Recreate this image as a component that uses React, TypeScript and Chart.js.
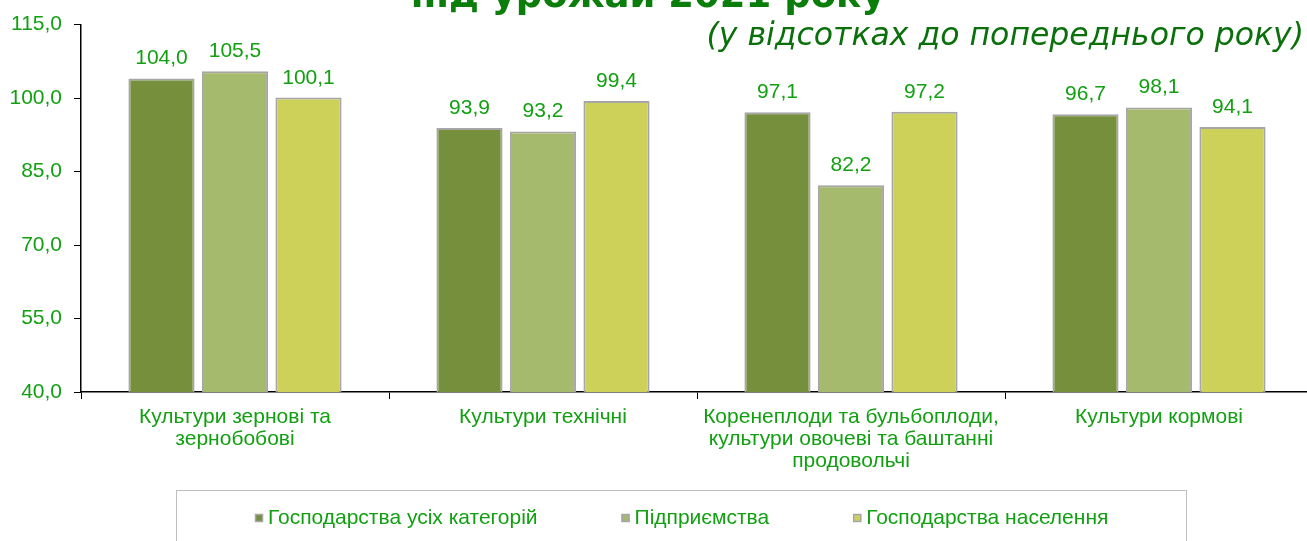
import React, { useEffect, useRef } from 'react';
import { Chart, registerables } from 'chart.js';

Chart.register(...registerables);

const categories: string[][] = [
  ['Культури зернові та', 'зернобобові'],
  ['Культури технічні'],
  ['Коренеплоди та бульбоплоди,', 'культури овочеві та баштанні', 'продовольчі'],
  ['Культури кормові'],
];
const seriesNames = ['Господарства усіх категорій', 'Підприємства', 'Господарства населення'];
const allCategories = [104.0, 93.9, 97.1, 96.7];
const enterprises = [105.5, 93.2, 82.2, 98.1];
const households = [100.1, 99.4, 97.2, 94.1];
const yMin = 40;
const yMax = 115;
const yStep = 15;
const titleText = 'під урожай 2021 року';
const subtitleText = '(у відсотках до попереднього року)';

const seriesColors = ['#758F3C', '#A6BA6D', '#CDD15A'];
const borderGray = '#A6A6A6';
const labelGreen = '#12A012';
const titleGreen = '#0A7D0A';
const subGreen = '#0B700B';
const arial = '"Liberation Sans", Arial, sans-serif';
const verdana = '"DejaVu Sans", Verdana, sans-serif';
const fmt = (v: number) => v.toFixed(1).replace('.', ',');
const FS = 21;

const W = 1313;
const H = 541;

const decorPlugin = {
  id: 'decor',
  afterDatasetsDraw(chart: any) {
    const ctx = chart.ctx;
    ctx.save();
    ctx.font = `${FS}px ${arial}`;
    ctx.fillStyle = labelGreen;
    ctx.textAlign = 'center';
    ctx.textBaseline = 'alphabetic';
    chart.data.datasets.forEach((ds: any, di: number) => {
      const meta = chart.getDatasetMeta(di);
      meta.data.forEach((el: any, i: number) => {
        ctx.fillText(fmt(ds.data[i]), el.x, el.y - 14);
      });
    });
    ctx.restore();
  },
  afterDraw(chart: any) {
    const ctx = chart.ctx;
    ctx.save();
    // title (partially cut off at top)
    ctx.font = `bold 37px ${verdana}`;
    ctx.fillStyle = titleGreen;
    ctx.textAlign = 'center';
    ctx.textBaseline = 'alphabetic';
    ctx.fillText(titleText, 648, 7);
    // subtitle
    ctx.font = `italic 31.5px ${verdana}`;
    ctx.fillStyle = subGreen;
    ctx.textAlign = 'right';
    ctx.fillText(subtitleText, 1304, 45);

    // legend box
    ctx.strokeStyle = '#BFBFBF';
    ctx.lineWidth = 1;
    ctx.strokeRect(176.5, 490.5, 1010, 80);
    ctx.font = `${FS}px ${arial}`;
    ctx.textAlign = 'left';
    ctx.textBaseline = 'middle';
    let x = 255;
    const y = 518;
    chart.data.datasets.forEach((ds: any) => {
      ctx.fillStyle = ds.backgroundColor;
      ctx.fillRect(x, y - 4, 8, 8);
      ctx.strokeStyle = borderGray;
      ctx.lineWidth = 1.5;
      ctx.strokeRect(x + 0.5, y - 3.5, 7, 7);
      ctx.fillStyle = labelGreen;
      const tx = x + 13;
      ctx.fillText(ds.label, tx, y);
      x = tx + ctx.measureText(ds.label).width + 84;
    });
    ctx.restore();
  },
};

export default function App() {
  const ref = useRef<HTMLCanvasElement | null>(null);
  useEffect(() => {
    if (!ref.current) return;
    const series = [allCategories, enterprises, households];
    const chart = new Chart(ref.current, {
      type: 'bar',
      data: {
        labels: categories,
        datasets: series.map((d, i) => ({
          label: seriesNames[i],
          data: d,
          backgroundColor: seriesColors[i],
          borderColor: borderGray,
          borderWidth: 2,
          borderSkipped: false,
          categoryPercentage: 0.716,
          barPercentage: 0.9,
        })),
      },
      options: {
        responsive: false,
        animation: false,
        devicePixelRatio: 1,
        layout: { padding: { top: 22, left: 0, right: 0, bottom: 0 } },
        plugins: { legend: { display: false }, tooltip: { enabled: false }, title: { display: false } },
        scales: {
          x: {
            afterFit: (s: any) => { s.height = 149; },
            grid: { display: true, drawOnChartArea: false, drawTicks: true, tickLength: 7, color: '#000', offset: true },
            border: { color: '#000', width: 1.5 },
            ticks: { color: labelGreen, font: { family: arial, size: FS, lineHeight: 1.05 }, padding: 7, maxRotation: 0, autoSkip: false },
          },
          y: {
            min: yMin,
            max: yMax,
            afterFit: (s: any) => { s.width = 81; },
            grid: { display: true, drawOnChartArea: false, drawTicks: true, tickLength: 7, color: '#000' },
            border: { color: '#000', width: 1.5 },
            ticks: { stepSize: yStep, color: labelGreen, font: { family: arial, size: FS }, padding: 12, callback: (v: any) => fmt(Number(v)) },
          },
        },
      },
      plugins: [decorPlugin],
    });
    return () => chart.destroy();
  }, []);
  return (
    <div style={{ position: 'fixed', left: 0, top: 0, width: 1307, height: 541, overflow: 'hidden', background: '#fff' }}>
      <canvas ref={ref} width={W} height={H} style={{ display: 'block', width: W, height: H }} />
    </div>
  );
}
